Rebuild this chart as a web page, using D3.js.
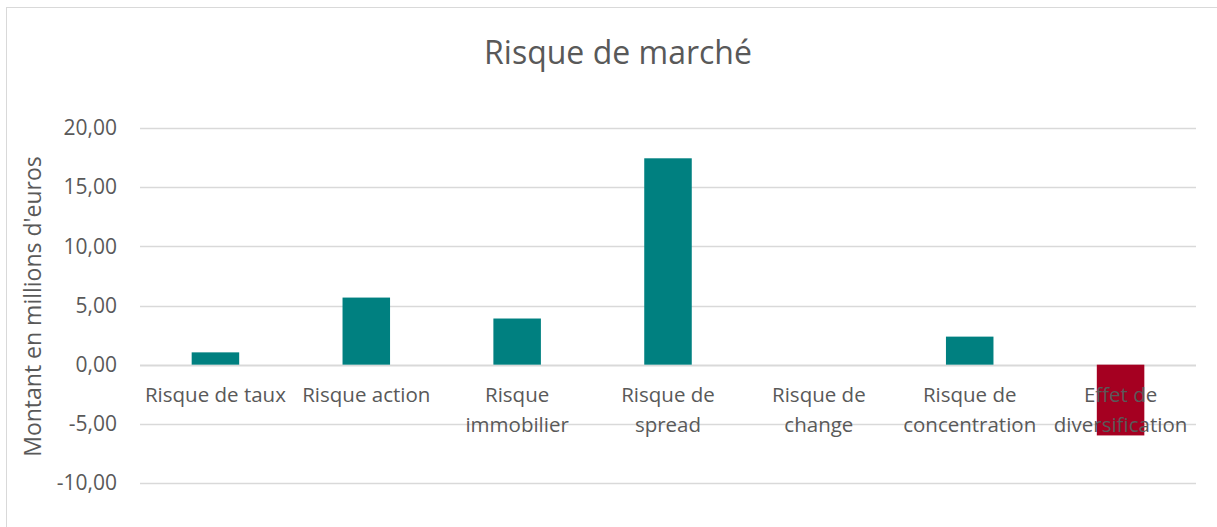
<!DOCTYPE html>
<html>
<head>
<meta charset="utf-8">
<script src="https://cdn.jsdelivr.net/npm/d3@7"></script>
<style>
  body { margin: 0; background: #fff; }
  text { font-family: "Open Sans", "Noto Sans", sans-serif; fill: #595959; }
</style>
</head>
<body>
<svg width="1217" height="527"></svg>
<script>
var categories = ["Risque de taux", "Risque action", "Risque immobilier", "Risque de spread",
                  "Risque de change", "Risque de concentration", "Effet de diversification"];
var values = [1.04, 5.67, 3.9, 17.44, 0, 2.37, -5.98];
var yTicks = [-10, -5, 0, 5, 10, 15, 20];

var svg = d3.select("svg"),
    width = +svg.attr("width"),
    height = +svg.attr("height");

var margin = {left: 140, right: 21, top: 128, bottom: 44};

// chart frame
svg.append("rect")
    .attr("x", 6.5).attr("y", 7.5)
    .attr("width", 1230).attr("height", 540)
    .attr("fill", "none").attr("stroke", "#d9d9d9");

var x = d3.scaleBand()
    .domain(categories)
    .range([margin.left, width - margin.right])
    .paddingInner(0.685).paddingOuter(0.3425);

var y = d3.scaleLinear()
    .domain([-10, 20])
    .range([height - margin.bottom, margin.top]);

// gridlines
svg.append("g")
    .selectAll("line")
    .data(yTicks)
    .enter().append("line")
      .attr("x1", margin.left)
      .attr("x2", width - margin.right)
      .attr("y1", function(d) { return Math.round(y(d)) + 0.5; })
      .attr("y2", function(d) { return Math.round(y(d)) + 0.5; })
      .attr("stroke", "#d9d9d9")
      .attr("stroke-width", function(d) { return d === 0 ? 2 : 1.5; });

// y tick labels
var yAxis = d3.axisLeft(y)
    .tickValues(yTicks)
    .tickSize(0)
    .tickPadding(0)
    .tickFormat(function(d) { return d3.format(".2f")(d).replace(".", ",").replace("\u2212", "-"); });

svg.append("g")
    .attr("transform", "translate(" + (margin.left - 23) + ",0)")
    .call(yAxis)
    .call(function(g) { g.select(".domain").remove(); })
    .selectAll("text")
      .attr("font-size", 21)
      .attr("font-family", "Open Sans")
      .attr("fill", "#595959");

// bars
svg.append("g")
    .selectAll("rect")
    .data(values)
    .enter().append("rect")
      .attr("x", function(d, i) { return x(categories[i]); })
      .attr("width", x.bandwidth())
      .attr("y", function(d) { return y(Math.max(0, d)); })
      .attr("height", function(d) { return Math.abs(y(d) - y(0)); })
      .attr("fill", function(d) { return d < 0 ? "#a50021" : "#008080"; });

// category labels, wrapped like excel
var step = x.step();
var labels = svg.append("g")
    .selectAll("text")
    .data(categories)
    .enter().append("text")
      .attr("text-anchor", "middle")
      .attr("font-size", 20.5)
      .attr("x", function(d) { return x(d) + x.bandwidth() / 2; });

labels.each(function(d) {
  var t = d3.select(this);
  var words = d.split(" "), lines = [], cur = "";
  var tmp = t.append("tspan");
  words.forEach(function(w) {
    var test = cur ? cur + " " + w : w;
    tmp.text(test);
    if (tmp.node().getComputedTextLength() > step && cur) {
      lines.push(cur); cur = w;
    } else cur = test;
  });
  lines.push(cur);
  tmp.remove();
  lines.forEach(function(l, i) {
    t.append("tspan")
      .attr("x", t.attr("x"))
      .attr("y", 402 + i * 30)
      .text(l);
  });
});

// title
svg.append("text")
    .attr("x", 618).attr("y", 64)
    .attr("text-anchor", "middle")
    .attr("font-size", 32)
    .text("Risque de marché");

// y axis title
svg.append("text")
    .attr("transform", "translate(41," + (y(5) + 1) + ") rotate(-90)")
    .attr("text-anchor", "middle")
    .attr("font-size", 23)
    .text("Montant en millions d'euros");
</script>
</body>
</html>
